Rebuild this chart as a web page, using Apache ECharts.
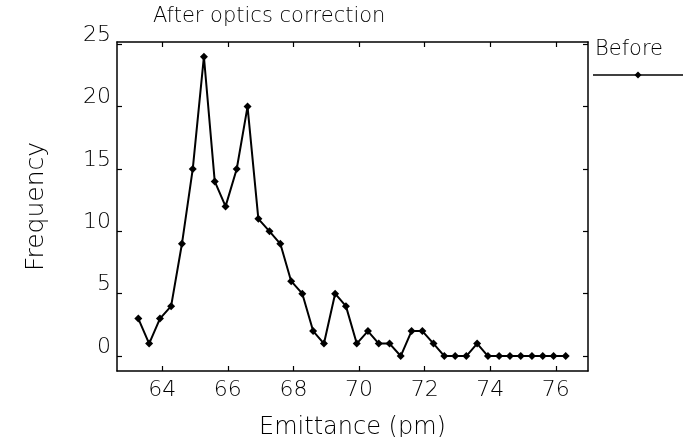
<!DOCTYPE html>
<html>
<head>
<meta charset="utf-8">
<script src="https://cdn.jsdelivr.net/npm/echarts@6/dist/echarts.min.js"></script>
<style>html,body{margin:0;padding:0;background:#fff}#c{width:683px;height:437px}</style>
</head>
<body>
<div id="c"></div>
<script>
const emittance = [63.27, 63.60, 63.93, 64.27, 64.60, 64.93, 65.27, 65.60, 65.93, 66.27,
  66.60, 66.93, 67.27, 67.60, 67.93, 68.27, 68.60, 68.93, 69.27, 69.60,
  69.93, 70.27, 70.60, 70.93, 71.27, 71.60, 71.93, 72.27, 72.60, 72.93,
  73.27, 73.60, 73.93, 74.27, 74.60, 74.93, 75.27, 75.60, 75.93, 76.30];
const frequency = [3, 1, 3, 4, 9, 15, 24, 14, 12, 15,
  20, 11, 10, 9, 6, 5, 2, 1, 5, 4,
  1, 2, 1, 1, 0, 2, 2, 1, 0, 0,
  0, 1, 0, 0, 0, 0, 0, 0, 0, 0];
const xTicks = [64, 66, 68, 70, 72, 74, 76];
const yTicks = [0, 5, 10, 15, 20, 25];
const seriesName = 'Before';
const titleText = 'After optics correction';
const xTitle = 'Emittance (pm)';
const yTitle = 'Frequency';

const FONT = 'DejaVu Sans';
const W = 200;
const chart = echarts.init(document.getElementById('c'));
const axisLine = {show: true, onZero: false, lineStyle: {color: '#000', width: 1.5}};
const tick = (vals) => ({show: true, inside: true, length: 5, customValues: vals, lineStyle: {color: '#000', width: 1.2}});
chart.setOption({
  animation: false,
  backgroundColor: '#fff',
  title: {text: titleText, left: 148, top: 1,
    textStyle: {fontFamily: FONT, fontWeight: W, fontSize: 21, color: '#000'}},
  grid: {left: 117, right: 95, top: 42, bottom: 66, outerBoundsMode: 'none', containLabel: false},
  xAxis: [
    {type: 'value', min: 62.62, max: 76.98, position: 'bottom',
     axisLine: axisLine, axisTick: tick(xTicks), splitLine: {show: false},
     axisLabel: {customValues: xTicks, margin: 8, fontFamily: FONT, fontWeight: W, fontSize: 22, color: '#000'},
     name: xTitle, nameLocation: 'middle', nameGap: 45,
     nameTextStyle: {fontFamily: FONT, fontWeight: W, fontSize: 24, color: '#000'}},
    {type: 'value', min: 62.62, max: 76.98, position: 'top',
     axisLine: axisLine, axisTick: tick(xTicks), axisLabel: {show: false}, splitLine: {show: false}}
  ],
  yAxis: [
    {type: 'value', min: -1.2, max: 25.18, position: 'left',
     axisLine: axisLine, axisTick: tick(yTicks), splitLine: {show: false},
     axisLabel: {customValues: yTicks, margin: 6, fontFamily: FONT, fontWeight: W, fontSize: 22, color: '#000', verticalAlign: 'bottom', lineHeight: 18},
     name: yTitle, nameLocation: 'middle', nameGap: 68, nameRotate: 90,
     nameTextStyle: {fontFamily: FONT, fontWeight: W, fontSize: 25, color: '#000'}},
    {type: 'value', min: -1.2, max: 25.18, position: 'right',
     axisLine: axisLine, axisTick: tick(yTicks), axisLabel: {show: false}, splitLine: {show: false}}
  ],
  series: [{
    name: seriesName, type: 'line',
    data: emittance.map((x, i) => [x, frequency[i]]),
    symbol: 'diamond', symbolSize: 8, showSymbol: true,
    lineStyle: {color: '#000', width: 2},
    itemStyle: {color: '#000'}
  }],
  graphic: [
    {type: 'text', left: 595, top: 39, style: {text: seriesName, font: '200 21px "DejaVu Sans"', fill: '#000'}},
    {type: 'line', shape: {x1: 593, y1: 75, x2: 683, y2: 75}, style: {stroke: '#000', lineWidth: 1.5}},
    {type: 'polygon', shape: {points: [[638, 71.5], [641.5, 75], [638, 78.5], [634.5, 75]]}, style: {fill: '#000'}}
  ]
});
</script>
</body>
</html>
